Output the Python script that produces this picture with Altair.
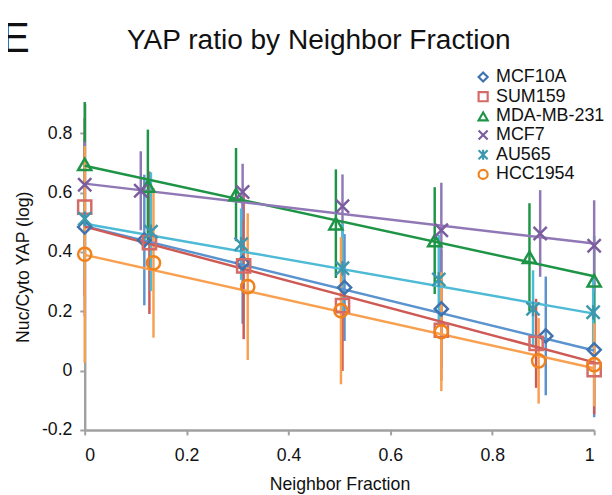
import altair as alt
import pandas as pd

series = ["MCF10A", "SUM159", "MDA-MB-231", "MCF7", "AU565", "HCC1954"]

# neighbor fraction (x), YAP ratio (y) and error half-length per series
mcf10a_x = [0.0, 0.117, 0.31, 0.51, 0.70, 0.905, 1.0]
mcf10a_y = [0.484, 0.440, 0.363, 0.280, 0.208, 0.117, 0.070]
mcf10a_e = [0.30, 0.22, 0.205, 0.18, 0.20, 0.20, 0.227]

sum159_x = [0.0, 0.127, 0.312, 0.506, 0.70, 0.886, 1.0]
sum159_y = [0.551, 0.431, 0.353, 0.219, 0.136, 0.092, 0.003]
sum159_e = [0.30, 0.24, 0.247, 0.22, 0.17, 0.15, 0.15]

mda_x = [0.0, 0.124, 0.297, 0.493, 0.687, 0.873, 1.0]
mda_y = [0.695, 0.622, 0.593, 0.495, 0.438, 0.382, 0.303]
mda_e = [0.21, 0.19, 0.157, 0.183, 0.18, 0.182, 0.15]

mcf7_x = [0.0, 0.11, 0.31, 0.506, 0.70, 0.894, 1.0]
mcf7_y = [0.626, 0.606, 0.602, 0.554, 0.473, 0.462, 0.421]
mcf7_e = [0.145, 0.133, 0.095, 0.107, 0.16, 0.146, 0.153]

au565_x = [0.0, 0.13, 0.307, 0.506, 0.695, 0.88, 0.998]
au565_y = [0.512, 0.468, 0.426, 0.345, 0.307, 0.208, 0.197]
au565_e = [0.20, 0.20, 0.12, 0.15, 0.15, 0.13, 0.12]

hcc_x = [0.0, 0.135, 0.32, 0.503, 0.70, 0.891, 1.0]
hcc_y = [0.392, 0.363, 0.283, 0.202, 0.131, 0.033, 0.020]
hcc_e = [0.365, 0.252, 0.247, 0.248, 0.20, 0.144, 0.14]

# linear trend lines: value at neighbor fraction 0 and at 1
trend_x = [0.0, 1.0]
trend_start = [0.487, 0.485, 0.690, 0.630, 0.495, 0.390]
trend_end = [0.068, 0.028, 0.318, 0.428, 0.192, 0.008]

marker_colors = ["#3F72AF", "#D46B66", "#1E9447", "#7B5C9E", "#3B98AE", "#F0821E"]
line_colors = ["#5B93CE", "#CE5A55", "#1E9447", "#9078B6", "#4DBAD6", "#F9A050"]
shapes = [
    "diamond",
    "square",
    "triangle-up",
    "M-1,-1L1,1M-1,1L1,-1",
    "M-1,-1L1,1M-1,1L1,-1M0,-1.1L0,1.1",
    "circle",
]

xs = [mcf10a_x, sum159_x, mda_x, mcf7_x, au565_x, hcc_x]
ys = [mcf10a_y, sum159_y, mda_y, mcf7_y, au565_y, hcc_y]
es = [mcf10a_e, sum159_e, mda_e, mcf7_e, au565_e, hcc_e]

rows = []
for i, name in enumerate(series):
    for xv, yv, ev in zip(xs[i], ys[i], es[i]):
        rows.append({"series": name, "line_series": name, "x": xv, "y": yv, "err": ev, "k": i})
df = pd.DataFrame(rows)

trend_rows = []
for i, name in enumerate(series):
    for xv, yv in zip(trend_x, [trend_start[i], trend_end[i]]):
        trend_rows.append({"line_series": name, "x": xv, "y": yv})
trend_df = pd.DataFrame(trend_rows)

FONT = "Liberation Sans"

xscale = alt.Scale(domain=[0, 1], nice=False, zero=False)
yscale = alt.Scale(domain=[-0.2, 0.9], nice=False, zero=False)

xaxis = alt.Axis(
    values=[0, 0.2, 0.4, 0.6, 0.8, 1], format="~g", grid=False,
    domainColor="#a0a0a0", domainWidth=2.5, tickColor="#a0a0a0", tickWidth=2,
    tickSize=5, labelFontSize=18, labelFont=FONT, labelColor="#111",
    labelPadding=12, titleFontSize=18, titleFont=FONT, titleFontWeight="normal",
    titleColor="#111", titlePadding=12,
)
yaxis = alt.Axis(
    values=[-0.2, 0, 0.2, 0.4, 0.6, 0.8], grid=False,
    labelExpr="datum.value < 0 ? '-' + format(-datum.value, '~g') : format(datum.value, '~g')",
    domainColor="#a0a0a0", domainWidth=2.5, tickColor="#a0a0a0", tickWidth=2,
    tickSize=5, labelFontSize=18, labelFont=FONT, labelColor="#111",
    labelPadding=8, titleFontSize=18, titleFont=FONT, titleFontWeight="normal",
    titleColor="#111", titlePadding=9,
)

# stroke scale uses the data-derived (sorted) domain so that it does not merge
# with the colour/shape legend
sorted_names = sorted(series)
stroke_scale = alt.Scale(range=[line_colors[series.index(n)] for n in sorted_names])

base = alt.Chart(df)

bars = base.transform_calculate(
    lo="datum.y - datum.err", hi="datum.y + datum.err"
).mark_rule(strokeWidth=2.5).encode(
    x=alt.X("x:Q", scale=xscale, axis=xaxis, title="Neighbor Fraction"),
    y=alt.Y("lo:Q", scale=yscale, axis=yaxis, title="Nuc/Cyto YAP (log)"),
    y2="hi:Q",
    stroke=alt.Stroke("line_series:N", scale=stroke_scale, legend=None),
)

lines = alt.Chart(trend_df).mark_line(strokeWidth=2.5).encode(
    x="x:Q",
    y="y:Q",
    stroke=alt.Stroke("line_series:N", scale=stroke_scale, legend=None),
)

points = base.mark_point(filled=False, size=180, strokeWidth=2.5, opacity=1).encode(
    x="x:Q",
    y="y:Q",
    color=alt.Color("series:N", scale=alt.Scale(domain=series, range=marker_colors), title=None),
    shape=alt.Shape("series:N", scale=alt.Scale(domain=series, range=shapes), title=None),
    order="k:Q",
)

title_text = alt.Chart(pd.DataFrame({"t": ["YAP ratio by Neighbor Fraction"]})).mark_text(
    font=FONT, fontSize=28.5, align="center", baseline="alphabetic", color="#111"
).encode(text="t:N", x=alt.value(238), y=alt.value(-55))

panel_text = alt.Chart(pd.DataFrame({"t": ["E"]})).mark_text(
    font=FONT, fontSize=44, align="left", baseline="alphabetic", color="#111"
).encode(text="t:N", x=alt.value(-85), y=alt.value(-52.5))

chart = alt.layer(bars, lines, points, title_text, panel_text).properties(
    width=518,
    height=332,
    padding={"left": 78, "top": 93, "right": 10, "bottom": 62},
    autosize=alt.AutoSizeParams(type="none"),
    background="white",
).configure_view(stroke=None).configure_legend(
    orient="none", legendX=396, legendY=-36, padding=0,
    labelFont=FONT, labelFontSize=18.2, labelColor="#111", labelOffset=4,
    symbolSize=85, symbolStrokeWidth=2.2, rowPadding=0,
)

chart.save("out.html", embed_options={"renderer": "svg", "actions": False})
